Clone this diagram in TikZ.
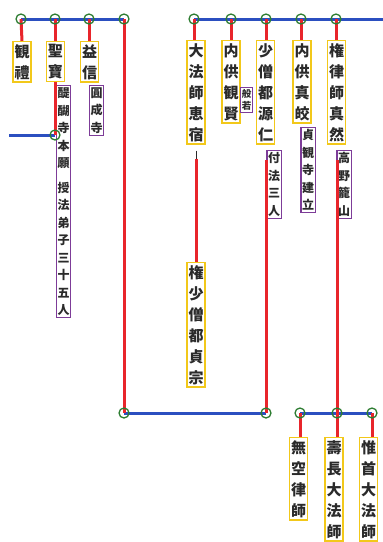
\documentclass[tikz,border=0pt]{standalone}
\usepackage{fontspec}
\newfontfamily\cjk{Noto Sans CJK JP}
\definecolor{ylw}{HTML}{F2C81A}
\definecolor{prp}{HTML}{7D3C98}
\definecolor{blu}{HTML}{2B4FC0}
\definecolor{rd}{HTML}{E8252B}
\definecolor{grn}{HTML}{2E7D32}
\definecolor{ink}{HTML}{2A2A2A}
\pgfdeclarelayer{background}
\pgfdeclarelayer{foreground}
\pgfsetlayers{background,main,foreground}
\begin{document}
\begin{tikzpicture}[x=1pt,y=-1pt,
  ybox/.style={draw=ylw,line width=1.4pt,fill=white,inner xsep=1.5pt,inner ysep=2.5pt,
    align=center,anchor=north,text=ink,font=\cjk\bfseries\fontsize{15}{21}\selectfont},
  pbox/.style={draw=prp,line width=1.4pt,fill=white,inner xsep=1.2pt,inner ysep=2pt,
    align=center,anchor=north,text=ink,font=\cjk\bfseries\fontsize{12}{17.5}\selectfont},
  sbox/.style={pbox,font=\cjk\bfseries\fontsize{9.5}{11.5}\selectfont,inner xsep=1pt},
  jn/.style={circle,draw=grn,line width=1.3pt,minimum size=10pt,inner sep=0pt},
  bl/.style={draw=blu,line width=3pt},
  rl/.style={draw=rd,line width=3pt}]
\useasboundingbox (0,0) rectangle (383,542);
% junction points
\coordinate (J1) at (21,19); \coordinate (J2) at (55,19); \coordinate (J3) at (89,19); \coordinate (J4) at (124,19);
\coordinate (JL) at (55,135); \coordinate (L0) at (9,135);
\coordinate (R1) at (194,19); \coordinate (R2) at (231,19); \coordinate (R3) at (266,19);
\coordinate (R4) at (301,19); \coordinate (R5) at (336,19); \coordinate (RE) at (383,19);
\coordinate (B1) at (124,413); \coordinate (B2) at (266,413);
\coordinate (B3) at (300,413); \coordinate (B4) at (337,413); \coordinate (B5) at (372,413);
\coordinate (G1) at (266,160); \coordinate (G2) at (337,160);
% name boxes
\node[ybox] (kanrai) at (22,41) {観\\禮};
\node[ybox] (shobo) at (55.5,41) {聖\\寶};
\node[ybox] (yakushin) at (89.5,41) {益\\信};
\node[ybox] (ekishuku) at (196,40) {大\\法\\師\\恵\\宿};
\node[ybox] (kangen) at (231,40) {内\\供\\観\\賢};
\node[ybox] (gennin) at (265.5,40) {少\\僧\\都\\源\\仁};
\node[ybox] (shinko) at (302,40) {内\\供\\真\\皎};
\node[ybox] (shinzen) at (336.5,40) {権\\律\\師\\真\\然};
\node[ybox] (teishu) at (196,262) {権\\少\\僧\\都\\貞\\宗};
\node[ybox] (muku) at (298.5,437) {無\\空\\律\\師};
\node[ybox] (jucho) at (334,437) {壽\\長\\大\\法\\師};
\node[ybox] (yuishu) at (368.5,437) {惟\\首\\大\\法\\師};
% notes
\node[pbox] (daigo) at (63.5,85) {醍\\醐\\寺\\本\\願\\[7pt]授\\法\\弟\\子\\三\\十\\五\\人};
\node[pbox] (enjo) at (96.5,85) {圓\\成\\寺};
\node[sbox] (hannya) at (246.5,87) {般\\若};
\node[pbox] (fuho) at (274,150) {付\\法\\三\\人};
\node[pbox] (jogan) at (308,127) {貞\\観\\寺\\建\\立};
\node[pbox] (koya) at (344,150) {高\\野\\籠\\山};
% connectors behind boxes
\begin{pgfonlayer}{background}
\draw[bl] (J1) -- (J4);
\draw[bl] (R1) -- (RE);
\draw[bl] (L0) -- (JL);
\draw[bl] (B1) -- (B2);
\draw[bl] (B3) -- (B5);
\draw[rl] (J1) -- (kanrai.north);
\draw[rl] (J2) -- (J2 |- shobo.north);
\draw[rl] (J3) -- (J3 |- yakushin.north);
\draw[rl] (J4) -- (B1);
\draw[rl] (R1) -- (R1 |- ekishuku.north);
\draw[rl] (R2) -- (kangen.north);
\draw[rl] (R3) -- (R3 |- gennin.north);
\draw[rl] (R4) -- (R4 |- shinko.north);
\draw[rl] (R5) -- (R5 |- shinzen.north);
\draw[draw=ink,line width=1pt,shorten <=6pt] (ekishuku.south) -- +(0,14);
\draw[rl,shorten <=14pt] (ekishuku.south) -- (teishu.north);
\draw[rl] (B3) -- (B3 |- muku.north);
\draw[rl] (B4) -- (B4 |- jucho.north);
\draw[rl] (B5) -- (B5 |- yuishu.north);
\end{pgfonlayer}
% connectors over the notes, and junction rings
\begin{pgfonlayer}{foreground}
\draw[rl] (J2 |- shobo.south) -- (JL);
\draw[rl] (G1) -- (B2);
\draw[rl] (G2) -- (B4);
\foreach \p in {J1,J2,J3,J4,JL,R1,R2,R3,R4,R5,B1,B2,B3,B4,B5}
  \node[jn] at (\p) {};
\end{pgfonlayer}
\end{tikzpicture}
\end{document}
